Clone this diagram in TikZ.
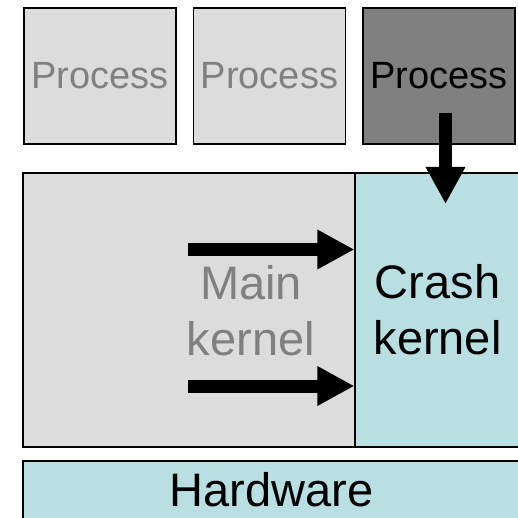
\documentclass[tikz,border=0pt]{standalone}
\usepackage{fontspec}
\setmainfont{Liberation Sans}
\definecolor{BoxGray}{RGB}{220,220,220}
\definecolor{DarkGray}{RGB}{128,128,128}
\definecolor{PaleBlue}{RGB}{185,223,227}
\usetikzlibrary{positioning,arrows.meta}
\tikzset{>=latex}
\tikzset{
  box/.style={draw=black,line width=1.2pt,inner sep=0pt,align=center},
  proc/.style={box,minimum width=152pt,minimum height=136pt,font=\fontsize{38}{45}\selectfont},
  big/.style={font=\fontsize{47}{56}\selectfont,align=center},
  fatarrow/.style={line width=13pt,-{Triangle[length=37pt,width=37pt]}}
}

\begin{document}
\begin{tikzpicture}[x=1pt,y=-1pt]
        \useasboundingbox (0,0) rectangle (518,518);
        \clip (0,0) rectangle (518,518);
        % user processes
        \node[proc,fill=BoxGray,text=DarkGray] at (100,76) (p1) {Process};
        \node[proc,fill=BoxGray,text=DarkGray] at (269.5,76) (p2) {Process};
        \node[proc,fill=DarkGray,text=black] at (439,76) (p3) {Process};
        % kernels
        \node[box,fill=BoxGray,minimum width=497pt,minimum height=274pt] at (271.5,310) (kern) {};
        \node[box,big,fill=PaleBlue,minimum width=165pt,minimum height=274pt] at (437.5,310) (crash) {Crash\\kernel};
        \node[big,text=DarkGray] at (251,311) (mainlbl) {Main\\kernel};
        % hardware
        \node[box,big,fill=PaleBlue,minimum width=497pt,minimum height=58pt] at (271.5,490) (hw) {Hardware};
        % arrows
        \coordinate (dump) at (445.5,113);
        \coordinate (up) at (188,249.5);
        \coordinate (low) at (188,386);
        \draw[fatarrow] (dump) -- (dump |- 0,204);
        \draw[fatarrow] (up) -- (up -| crash.west);
        \draw[fatarrow] (low) -- (low -| crash.west);
    \end{tikzpicture}
\end{document}
